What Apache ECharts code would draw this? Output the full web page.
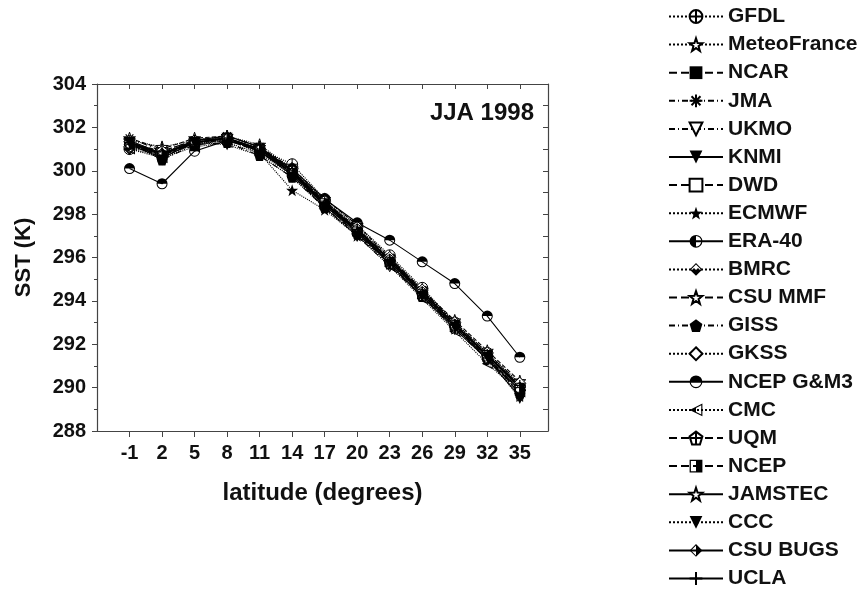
<!DOCTYPE html>
<html lang="en">
<head>
    <meta charset="UTF-8">
    <title>SST JJA 1998</title>
    <script src="https://cdn.jsdelivr.net/npm/echarts@6/dist/echarts.min.js"></script>
</head>
<body style="margin:0;background:#fff">
<div id="myChart" style="width: 868px;height: 594px"></div>
<script>
    // latitude (degrees)
    var latitudes = [-1, 2, 5, 8, 11, 14, 17, 20, 23, 26, 29, 32, 35];
    var yTicks = [288, 290, 292, 294, 296, 298, 300, 302, 304];

    // SST (K) per model
    var gfdl        = [301.0, 300.7, 301.2, 301.5, 301.0, 300.3, 298.7, 297.5, 296.1, 294.6, 293.0, 291.6, 290.1];
    var meteoFrance = [301.4, 301.1, 301.4, 301.6, 301.2, 300.1, 298.6, 297.4, 295.8, 294.3, 292.8, 291.4, 289.8];
    var ncar        = [301.3, 300.6, 301.3, 301.5, 300.9, 299.9, 298.5, 297.2, 295.9, 294.4, 292.9, 291.5, 290.0];
    var jma         = [301.5, 300.9, 301.4, 301.6, 301.1, 300.0, 298.6, 297.3, 296.0, 294.5, 293.0, 291.6, 290.2];
    var ukmo        = [301.1, 300.8, 301.2, 301.4, 300.9, 299.8, 298.3, 297.0, 295.6, 294.2, 292.7, 291.3, 289.8];
    var knmi        = [301.3, 300.8, 301.3, 301.5, 301.0, 299.9, 298.5, 297.3, 295.9, 294.4, 292.9, 291.5, 290.0];
    var dwd         = [301.2, 300.7, 301.3, 301.4, 300.9, 299.9, 298.4, 297.2, 295.8, 294.3, 292.8, 291.4, 289.9];
    var ecmwf       = [301.4, 300.7, 301.4, 301.5, 300.8, 299.1, 298.2, 297.0, 295.8, 294.3, 292.8, 291.5, 290.0];
    var era40       = [301.2, 300.6, 301.3, 301.5, 300.9, 299.8, 298.4, 297.2, 295.8, 294.4, 292.9, 291.5, 290.1];
    var bmrc        = [301.0, 300.9, 301.2, 301.4, 301.0, 300.0, 298.5, 297.3, 295.9, 294.5, 293.0, 291.4, 289.9];
    var csuMmf      = [301.5, 301.0, 301.5, 301.6, 301.1, 300.1, 298.7, 297.5, 296.0, 294.5, 293.1, 291.7, 290.3];
    var giss        = [301.3, 300.5, 301.2, 301.3, 300.7, 299.7, 298.3, 297.1, 295.7, 294.2, 292.8, 291.4, 289.7];
    var gkss        = [301.1, 300.8, 301.3, 301.4, 301.0, 300.1, 298.6, 297.4, 296.0, 294.5, 293.0, 291.6, 290.2];
    var ncepGM3     = [300.1, 299.4, 300.9, 301.4, 301.0, 300.1, 298.7, 297.6, 296.8, 295.8, 294.8, 293.3, 291.4];
    var cmc         = [301.0, 300.6, 301.1, 301.3, 300.8, 299.8, 298.3, 297.0, 295.6, 294.1, 292.6, 291.1, 289.8];
    var uqm         = [301.3, 300.9, 301.4, 301.5, 301.0, 300.0, 298.6, 297.3, 295.9, 294.4, 292.9, 291.5, 290.0];
    var ncep        = [301.2, 300.7, 301.3, 301.5, 300.9, 299.9, 298.5, 297.2, 295.8, 294.3, 292.9, 291.5, 290.0];
    var jamstec     = [301.4, 300.8, 301.4, 301.6, 301.1, 300.0, 298.5, 297.2, 295.7, 294.2, 292.7, 291.3, 289.6];
    var ccc         = [301.3, 300.5, 301.3, 301.2, 300.7, 299.7, 298.3, 297.0, 295.7, 294.2, 292.8, 291.4, 289.5];
    var csuBugs     = [301.2, 300.8, 301.3, 301.5, 301.0, 299.9, 298.4, 297.1, 295.8, 294.3, 292.8, 291.3, 289.9];
    var ucla        = [301.3, 300.7, 301.4, 301.5, 301.0, 300.0, 298.5, 297.3, 295.9, 294.4, 292.9, 291.5, 290.1];

    // marker shapes
    var RING = 'M0,10 A10,10 0 1,1 20,10 A10,10 0 1,1 0,10 Z M1.8,10 A8.2,8.2 0 1,0 18.2,10 A8.2,8.2 0 1,0 1.8,10 Z ';
    var DIA_RING = 'M10,0 L20,10 L10,20 L0,10 Z M10,2.2 L2.2,10 L10,17.8 L17.8,10 Z ';
    var STAR = 'path://M10,0 L12.35,6.76 L19.51,6.91 L13.8,11.24 L15.88,18.09 L10,14 L4.12,18.09 L6.2,11.24 L0.49,6.91 L7.65,6.76 Z';
    var sym = {
        circleCross: 'path://M0,10 A10,10 0 1,1 20,10 A10,10 0 1,1 0,10 Z M10,0 L10,20 M0,10 L20,10',
        star: STAR,
        asterisk: 'path://M10,0 L10,20 M0,10 L20,10 M3,3 L17,17 M17,3 L3,17',
        down: 'path://M0,0 L20,0 L10,18 Z',
        pentagon: 'path://M10,0 L19.51,6.91 L15.88,18.09 L4.12,18.09 L0.49,6.91 Z',
        pentaCross: 'path://M10,0 L19.51,6.91 L15.88,18.09 L4.12,18.09 L0.49,6.91 Z M10,0 L10,18.09 M0.49,9 L19.51,9',
        circleLeft: 'path://' + RING + 'M10,18.2 A8.2,8.2 0 0,1 10,1.8 Z',
        circleTop: 'path://' + RING + 'M1.8,10 A8.2,8.2 0 0,1 18.2,10 Z',
        diaBottom: 'path://' + DIA_RING + 'M0,10 L20,10 L10,20 Z',
        diaRight: 'path://' + DIA_RING + 'M10,0 L20,10 L10,20 Z',
        leftTri: 'path://M0,10 L18,0 L18,20 Z M3.6,10 L16.4,17.1 L16.4,2.9 Z M0,10 L9,5 L9,15 Z',
        rectRight: 'path://M0,0 L20,0 L20,20 L0,20 Z M2,2 L2,18 L18,18 L18,2 Z M10,0 L20,0 L20,20 L10,20 Z',
        plus: 'path://M10,0 L10,20 M0,10 L20,10'
    };

    var DASHDOT = [6, 3, 1, 3];
    var OPEN = {color: '#fff', borderColor: '#000', borderWidth: 1};
    var FULL = {color: '#000', borderColor: '#000', borderWidth: 0};
    var STROKE = {color: '#000', borderColor: '#000', borderWidth: 1.2};

    function makeSeries(name, values, symbol, size, lineType, item, width) {
        return {
            name: name,
            type: 'line',
            data: latitudes.map(function (lat, i) { return [lat, values[i]]; }),
            symbol: symbol,
            symbolSize: size,
            lineStyle: {color: '#000', width: width || 1.1, type: lineType},
            itemStyle: item
        };
    }

    var series = [
        makeSeries('GFDL', gfdl, sym.circleCross, 11, 'dotted', OPEN),
        makeSeries('MeteoFrance', meteoFrance, sym.star, 12, 'dotted', OPEN),
        makeSeries('NCAR', ncar, 'rect', 9, 'dashed', FULL),
        makeSeries('JMA', jma, sym.asterisk, 11, DASHDOT, STROKE),
        makeSeries('UKMO', ukmo, sym.down, 11, DASHDOT, OPEN),
        makeSeries('KNMI', knmi, sym.down, 11, 'solid', FULL, 1.8),
        makeSeries('DWD', dwd, 'rect', 9, 'dashed', OPEN),
        makeSeries('ECMWF', ecmwf, sym.star, 12, 'dotted', FULL),
        makeSeries('ERA-40', era40, sym.circleLeft, 11, 'solid', FULL),
        makeSeries('BMRC', bmrc, sym.diaBottom, 12, 'dotted', FULL),
        makeSeries('CSU MMF', csuMmf, sym.star, 12, 'dashed', OPEN),
        makeSeries('GISS', giss, sym.pentagon, 11, DASHDOT, FULL),
        makeSeries('GKSS', gkss, 'diamond', 12, 'dotted', OPEN),
        makeSeries('NCEP G&M3', ncepGM3, sym.circleTop, 11, 'solid', FULL),
        makeSeries('CMC', cmc, sym.leftTri, 11, 'dotted', FULL),
        makeSeries('UQM', uqm, sym.pentaCross, 11, 'dashed', OPEN),
        makeSeries('NCEP', ncep, sym.rectRight, 10, 'dashed', FULL),
        makeSeries('JAMSTEC', jamstec, sym.star, 10, 'solid', OPEN),
        makeSeries('CCC', ccc, sym.down, 11, 'dotted', FULL),
        makeSeries('CSU BUGS', csuBugs, sym.diaRight, 12, 'solid', FULL),
        makeSeries('UCLA', ucla, sym.plus, 11, 'solid', STROKE)
    ];

    var FONT = '"Liberation Sans", Arial, sans-serif';
    var AXIS_LINE = {show: true, onZero: false, lineStyle: {color: '#444', width: 1.2}};

    var myChart = echarts.init(document.getElementById('myChart'));
    myChart.setOption({
        animation: false,
        textStyle: {fontFamily: FONT},
        //标题
        title: {
            text: 'JJA 1998',
            right: 329,
            top: 96,
            textStyle: {fontSize: 24, fontWeight: 'bold', color: '#111', fontFamily: FONT}
        },
        //图例
        legend: {
            orient: 'vertical',
            left: 668,
            top: 6,
            padding: 0,
            itemWidth: 54,
            itemHeight: 16,
            itemGap: 7.1,
            selectedMode: false,
            textStyle: {fontSize: 21, fontWeight: 'bold', color: '#111', fontFamily: FONT},
            data: series.map(function (s) { return s.name; })
        },
        grid: {left: 97, right: 320, top: 84, bottom: 163},
        xAxis: [{
            type: 'value',
            min: -4,
            max: 37.6,
            name: 'latitude (degrees)',
            nameLocation: 'middle',
            nameGap: 50,
            nameTextStyle: {fontSize: 24, fontWeight: 'bold', color: '#111'},
            axisLine: AXIS_LINE,
            axisTick: {show: true, length: 6, customValues: latitudes, lineStyle: {color: '#444'}},
            axisLabel: {fontSize: 20, fontWeight: 'bold', color: '#111', margin: 12, customValues: latitudes},
            splitLine: {show: false}
        }, {
            type: 'value',
            position: 'top',
            min: -4,
            max: 37.6,
            axisLine: AXIS_LINE,
            axisTick: {show: true, inside: true, length: 5, customValues: latitudes, lineStyle: {color: '#444'}},
            axisLabel: {show: false},
            splitLine: {show: false}
        }],
        yAxis: [{
            type: 'value',
            min: 288,
            max: 304,
            interval: 2,
            name: 'SST (K)',
            nameLocation: 'middle',
            nameGap: 62,
            nameTextStyle: {fontSize: 22, fontWeight: 'bold', color: '#111'},
            axisLine: AXIS_LINE,
            axisTick: {show: true, length: 5, lineStyle: {color: '#444'}},
            minorTick: {show: true, splitNumber: 2, length: 3, lineStyle: {color: '#444'}},
            axisLabel: {fontSize: 20, fontWeight: 'bold', color: '#111', margin: 11, customValues: yTicks},
            splitLine: {show: false}
        }, {
            type: 'value',
            position: 'right',
            min: 288,
            max: 304,
            interval: 2,
            axisLine: AXIS_LINE,
            axisTick: {show: true, inside: true, length: 5, lineStyle: {color: '#444'}},
            minorTick: {show: true, splitNumber: 2, length: 5, lineStyle: {color: '#444'}},
            axisLabel: {show: false},
            splitLine: {show: false}
        }],
        series: series
    });
</script>
</body>
</html>
